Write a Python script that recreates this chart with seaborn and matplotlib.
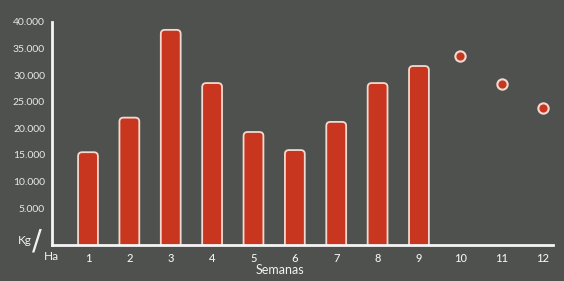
import matplotlib
matplotlib.use("Agg")
import matplotlib.pyplot as plt
from matplotlib.patches import FancyBboxPatch
import pandas as pd
import seaborn as sns

# data
semanas = [str(i) for i in range(1, 13)]
kg_ha_real = [15500, 22000, 38500, 28500, 19300, 15900, 21200, 28500, 31700]
kg_ha_proy = [33600, 28300, 23800]
y_ticks = [5000, 10000, 15000, 20000, 25000, 30000, 35000, 40000]
y_labels = ["5.000", "10.000", "15.000", "20.000", "25.000", "30.000", "35.000", "40.000"]

bg = "#4e514e"
red = "#c8361f"
edge = "#f3d9cf"
ymin, ymax = -1950, 42000

sns.set_style("dark")
plt.rcParams['font.family'] = ['Lato', 'DejaVu Sans']

df_real = pd.DataFrame({"semana": semanas[:9], "kg": kg_ha_real})
df_proy = pd.DataFrame({"pos": [semanas.index(s) for s in semanas[9:]], "kg": kg_ha_proy})

fig = plt.figure(figsize=(5.64, 2.81), dpi=100, facecolor=bg)
ax = fig.add_axes([52 / 564, 0.128, 501 / 564, 0.832])
ax.set_facecolor(bg)

sns.barplot(data=df_real, x="semana", y="kg", order=semanas, width=0.48,
            color=red, ax=ax)

# swap the plain rectangles for bars with rounded tops
for p in list(ax.patches):
    x0, w, h = p.get_x(), p.get_width(), p.get_height()
    p.remove()
    bar = FancyBboxPatch((x0, ymin - 3000), w, h - ymin + 3000,
                         boxstyle="round,pad=0,rounding_size=0.1",
                         mutation_aspect=7500, facecolor=red,
                         edgecolor=edge, linewidth=1.3, zorder=2)
    ax.add_patch(bar)

sns.scatterplot(data=df_proy, x="pos", y="kg", s=55, color=red,
                edgecolor=edge, linewidth=1.5, zorder=3, ax=ax, legend=False)

ax.set_xlim(-0.87, 11.24)
ax.set_ylim(ymin, ymax)
ax.set_xticks(range(len(semanas)))
ax.set_xticklabels(semanas, color="#f2f2f2", fontsize=8, fontweight="medium")
ax.set_yticks(y_ticks)
ax.set_yticklabels(y_labels, color="#e8e8e8", fontsize=7.5)
ax.tick_params(axis="x", length=0, pad=6)
ax.tick_params(axis="y", length=4, width=1, color="#e8e8e8", pad=1, direction="out")
ax.set_xlabel("")
ax.set_ylabel("")
ax.grid(False)

for s in ["top", "right"]:
    ax.spines[s].set_visible(False)
for s in ["left", "bottom"]:
    ax.spines[s].set_visible(True)
    ax.spines[s].set_color("#f5f5f5")
    ax.spines[s].set_linewidth(2)
ax.spines["left"].set_bounds(ymin, 40000)

fig.text(280 / 564, 1 - 270 / 281, "Semanas", color="#f2f2f2", fontsize=9,
         ha="center", va="center")
fig.text(25 / 564, 1 - 241 / 281, "Kg", color="#f2f2f2", fontsize=8.5,
         ha="center", va="center")
fig.text(37 / 564, 1 - 242 / 281, "/", color="#f2f2f2", fontsize=21,
         ha="center", va="center", family="DejaVu Sans")
fig.text(51 / 564, 1 - 256 / 281, "Ha", color="#f2f2f2", fontsize=8.5,
         ha="center", va="center")

fig.savefig("out.png", dpi=100, facecolor=bg)
